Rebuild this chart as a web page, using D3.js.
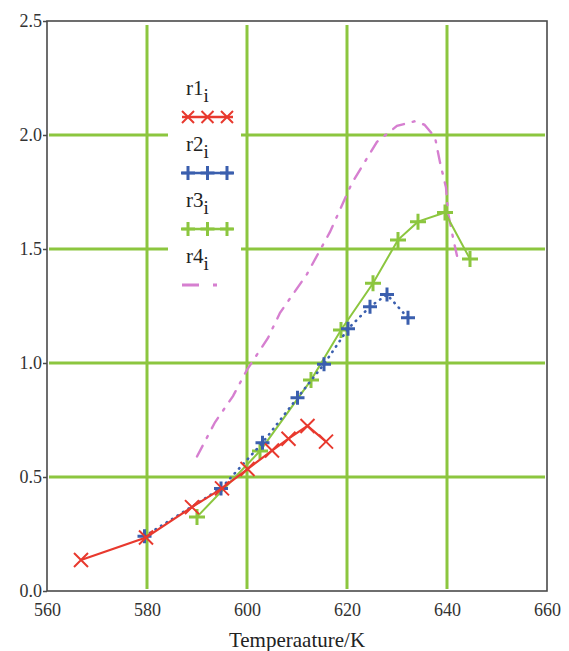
<!DOCTYPE html>
<html><head><meta charset="utf-8">
<script src="https://cdn.jsdelivr.net/npm/d3@7"></script>
<style>body{margin:0;background:#fff}svg{display:block}</style>
</head><body>
<script>
const xTicks=[560,580,600,620,640,660];
const yTicks=[0.0,0.5,1.0,1.5,2.0,2.5];
const xGrid=[580,600,620,640];
const yGrid=[0.5,1.0,1.5,2.0];
const xLabel="Temperaature/K";
const seriesNames=["r1","r2","r3","r4"];
const r1=[[566.8,0.136],[579.8,0.235],[589,0.368],[595,0.45],[600.1,0.535],[605,0.616],[608.3,0.668],[612.1,0.724],[615.8,0.655]];
const r2=[[579.5,0.24],[594.8,0.45],[603.1,0.65],[610.1,0.848],[615.4,0.995],[620.2,1.15],[624.6,1.247],[628,1.30],[632.2,1.198]];
const r3=[[590,0.325],[602.6,0.614],[612.8,0.925],[618.8,1.145],[625.2,1.35],[630.2,1.54],[634.2,1.62],[639.6,1.66],[644.6,1.456]];
const r4=[[590,0.59],[593.6,0.74],[597.2,0.855],[600,0.97],[604.2,1.11],[606.6,1.22],[612,1.39],[616.6,1.575],[621,1.79],[626,1.97],[630,2.04],[633.5,2.06],[635.5,2.045],[637.6,1.99],[638.6,1.88],[639.8,1.77],[640.2,1.66],[641.2,1.55],[642,1.47]];

const W=569,H=651;
const svg=d3.select("body").append("svg").attr("width",W).attr("height",H);
const x=d3.scaleLinear().domain([560,660]).range([47,547]);
const y=d3.scaleLinear().domain([0,2.5]).range([591,21]);
const font="'Liberation Serif','Times New Roman',serif";
const RED="#e8392e",BLUE="#3b5fae",GREEN="#8cc63f",PINK="#d67fd0";

// grid
svg.append("g").selectAll("line").data(xGrid).join("line")
  .attr("x1",d=>x(d)).attr("x2",d=>x(d)).attr("y1",y(2.5)+4).attr("y2",y(0)-2)
  .attr("stroke",GREEN).attr("stroke-width",3);
svg.append("g").selectAll("line").data(yGrid).join("line")
  .attr("x1",x(560)+2).attr("x2",x(660)-2).attr("y1",d=>y(d)).attr("y2",d=>y(d))
  .attr("stroke",GREEN).attr("stroke-width",3);

// legend background
svg.append("rect").attr("x",168).attr("y",58).attr("width",73).attr("height",244).attr("fill","#fff");

// frame
svg.append("rect").attr("x",x(560)).attr("y",y(2.5)).attr("width",x(660)-x(560)).attr("height",y(0)-y(2.5))
  .attr("fill","none").attr("stroke","#4a4a4a").attr("stroke-width",1.6);

// y axis ticks & labels
const yAxis=d3.axisLeft(y).tickValues(yTicks).tickFormat(d3.format(".1f")).tickSize(4).tickPadding(1);
const ga=svg.append("g").attr("transform",`translate(${x(560)},0)`).call(yAxis);
ga.select(".domain").remove();
ga.selectAll("line").attr("stroke","#4a4a4a").attr("stroke-width",1.5);
ga.selectAll("text").attr("font-family",font).attr("font-size",18).attr("fill","#333");

const xAxis=d3.axisBottom(x).tickValues(xTicks).tickFormat(d3.format("d")).tickSize(0).tickPadding(12);
const gx=svg.append("g").attr("transform",`translate(0,${y(0)})`).call(xAxis);
gx.select(".domain").remove();
gx.selectAll("text").attr("font-family",font).attr("font-size",18).attr("fill","#333");

svg.append("text").attr("x",(x(560)+x(660))/2).attr("y",647).attr("text-anchor","middle")
  .attr("font-family",font).attr("font-size",21).attr("fill","#222").text(xLabel);

const line=d3.line().x(d=>x(d[0])).y(d=>y(d[1]));
function xMark(g,px,py,s,c){
  g.append("path").attr("d",`M${px-s},${py-s}L${px+s},${py+s}M${px-s},${py+s}L${px+s},${py-s}`)
   .attr("stroke",c).attr("stroke-width",2).attr("fill","none");
}
function pMark(g,px,py,s,c){
  g.append("path").attr("d",`M${px-s},${py}L${px+s},${py}M${px},${py-s}L${px},${py+s}`)
   .attr("stroke",c).attr("stroke-width",3).attr("fill","none");
}
const plot=svg.append("g");
// r4 pink dash-dot
plot.append("path").attr("d",line(r4)).attr("fill","none").attr("stroke",PINK).attr("stroke-width",2.4)
  .attr("stroke-dasharray","12,9,2,9").attr("stroke-linecap","round");
// r3 green
plot.append("path").attr("d",line(r3)).attr("fill","none").attr("stroke",GREEN).attr("stroke-width",2);
r3.forEach(d=>pMark(plot,x(d[0]),y(d[1]),8,GREEN));
// r2 blue dotted
plot.append("path").attr("d",line(r2)).attr("fill","none").attr("stroke",BLUE).attr("stroke-width",2.6)
  .attr("stroke-dasharray","0.5,6").attr("stroke-linecap","round");
r2.forEach(d=>pMark(plot,x(d[0]),y(d[1]),7,BLUE));
// r1 red
plot.append("path").attr("d",line(r1)).attr("fill","none").attr("stroke",RED).attr("stroke-width",2.2);
r1.forEach(d=>xMark(plot,x(d[0]),y(d[1]),7,RED));

// legend
const leg=svg.append("g");
const rowsY=[95,151,207,263];
const colors=[RED,BLUE,GREEN,PINK];
seriesNames.forEach((n,i)=>{
  const t=leg.append("text").attr("x",186).attr("y",rowsY[i]).attr("font-family",font).attr("font-size",21).attr("fill","#222");
  t.append("tspan").text(n);
  t.append("tspan").attr("dy",7).attr("font-size",19).text("i");
  const sy=rowsY[i]+22;
  if(i<3){
    leg.append("line").attr("x1",182).attr("x2",233).attr("y1",sy).attr("y2",sy).attr("stroke",colors[i]).attr("stroke-width",2.6);
    [188,207.5,227].forEach(cx=>{ if(i===0) xMark(leg,cx,sy,6,RED); else pMark(leg,cx,sy,7,colors[i]); });
  } else {
    leg.append("line").attr("x1",182).attr("x2",220).attr("y1",sy).attr("y2",sy).attr("stroke",PINK).attr("stroke-width",2.8)
      .attr("stroke-dasharray","17,14,4,20");
  }
});
</script>
</body></html>
